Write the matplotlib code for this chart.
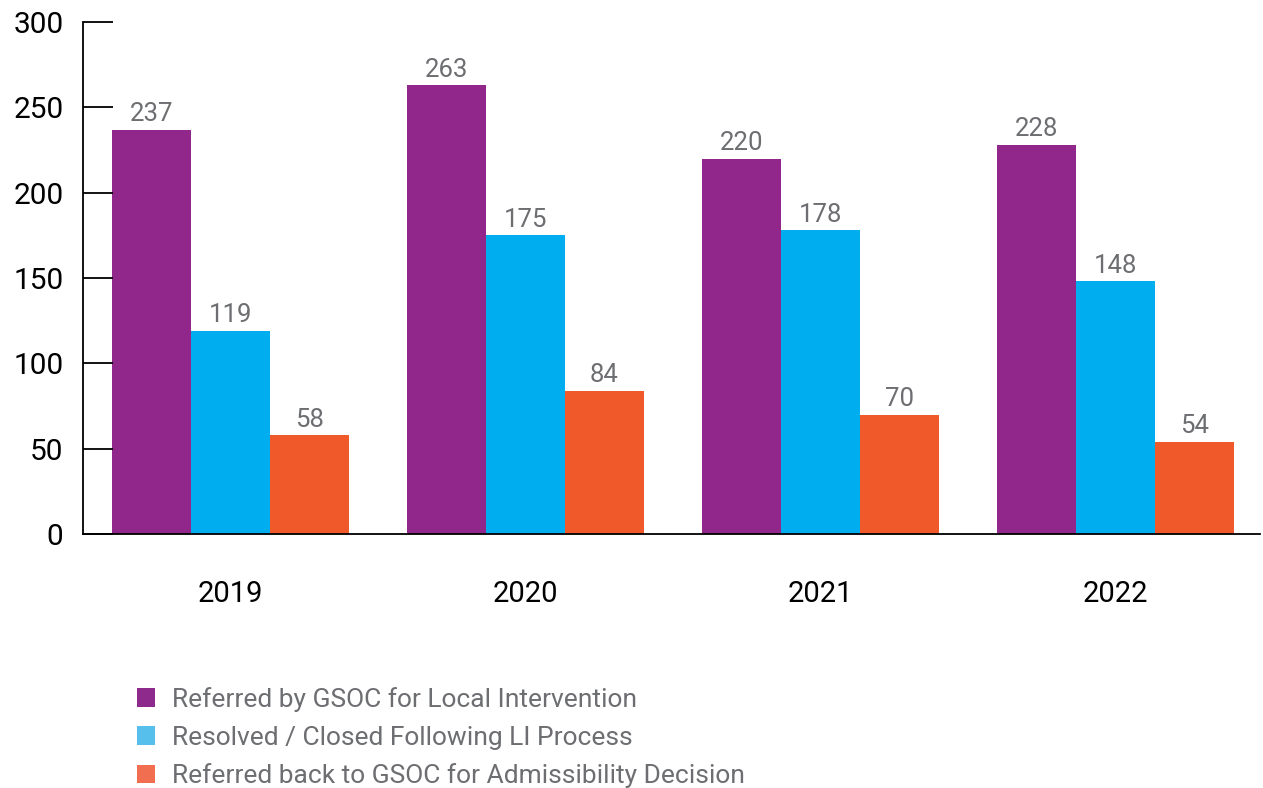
import matplotlib
matplotlib.use("Agg")
import matplotlib.pyplot as plt
import numpy as np
from matplotlib.patches import Patch

years = ["2019", "2020", "2021", "2022"]
referred = [237, 263, 220, 228]
resolved = [119, 175, 178, 148]
referred_back = [58, 84, 70, 54]
series_names = ["Referred by GSOC for Local Intervention",
                "Resolved / Closed Following LI Process",
                "Referred back to GSOC for Admissibility Decision"]
bar_colors = ["#91278b", "#00aeef", "#f05a2b"]
legend_colors = ["#8e2a8b", "#56bfec", "#f26e50"]

plt.rcParams['font.family'] = ['Roboto', 'DejaVu Sans']

fig = plt.figure(figsize=(12.63, 7.88), dpi=100)
ax = fig.add_axes([83/1263, 1-534/788, (1260-83)/1263, (534-22)/788])

x = np.arange(len(years))
w = 0.268
for i, (vals, c) in enumerate(zip([referred, resolved, referred_back], bar_colors)):
    pos = x + (i - 1) * w
    ax.bar(pos, vals, width=w, color=c, linewidth=0)
    for p, v in zip(pos, vals):
        ax.text(p, v + 2, str(v), ha='center', va='bottom', fontsize=18.5, color='#6d6e71')

ax.set_xlim(-0.5, 3.49)
ax.set_ylim(0, 300)
ax.set_yticks(range(0, 301, 50))
ax.set_xticks(x)
ax.set_xticklabels(years)
for s in ['top', 'right']:
    ax.spines[s].set_visible(False)
for s in ['left', 'bottom']:
    ax.spines[s].set_linewidth(1.3)
ax.tick_params(axis='y', direction='in', length=21.6, width=1.3, pad=14, labelsize=21.5, color='black')
ax.tick_params(axis='x', length=0, pad=33, labelsize=21)

handles = [Patch(facecolor=c, edgecolor='none') for c in legend_colors]
leg = fig.legend(handles, series_names, loc='upper left', bbox_to_anchor=(137/1263, 1-687/788),
                 frameon=False, fontsize=19, labelcolor='#6d6e71', handlelength=0.7, handleheight=0.7,
                 handletextpad=0.62, labelspacing=0.52, borderaxespad=0, borderpad=0)

fig.savefig("out.png", dpi=100)
